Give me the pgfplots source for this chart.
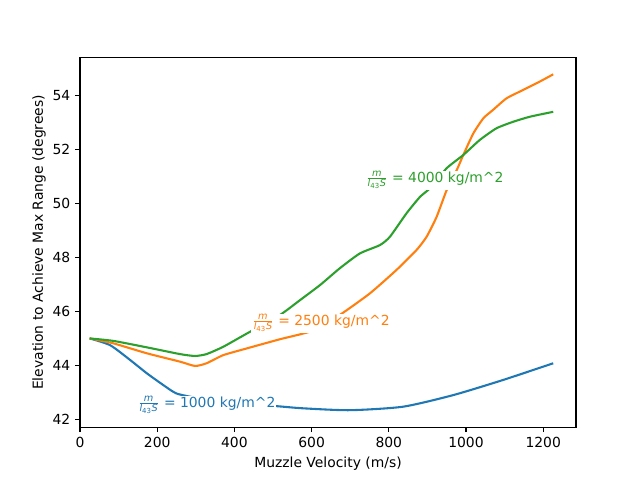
\documentclass[border=0pt]{standalone}
\usepackage{fontspec}
\setmainfont{DejaVu Sans}
\usepackage{pgfplots}
\pgfplotsset{compat=1.18}
\definecolor{cA}{HTML}{1F77B4}
\definecolor{cB}{HTML}{FF7F0E}
\definecolor{cC}{HTML}{2CA02C}
\newcommand{\frc}{$\frac{\mathit{m}}{\mathit{l}_{\mathrm{43}}\mathit{S}}$}
\begin{document}
\begin{tikzpicture}
\useasboundingbox (-57.6pt,-38.02pt) rectangle (403.2pt,307.58pt);
\begin{axis}[
  at={(0pt,0pt)}, anchor=origin,
  scale only axis, width=357.12pt, height=266.11pt,
  xmin=0, xmax=1285, ymin=41.71, ymax=55.41,
  xtick={0,200,...,1200}, ytick={42,44,...,54},
  tick align=outside, tick pos=left, major tick length=3.5pt,
  every tick/.style={black, line width=0.8pt},
  axis line style={line width=0.8pt},
  tick label style={font=\fontsize{10}{12}\selectfont},
  label style={font=\fontsize{10}{12}\selectfont},
  /pgf/number format/assume math mode=true,
  /pgf/number format/1000 sep={},
  scaled ticks=false,
  xlabel={Muzzle Velocity (m/s)},
  ylabel={Elevation to Achieve Max Range (degrees)},
  ylabel style={yshift=-2pt},
]
\addplot[cA, line width=1.5pt, smooth, tension=0.4] coordinates {
(25,45.00) (78,44.75) (130,44.20) (173,43.71) (216,43.27) (250,42.96)
(300,42.80) (350,42.68) (400,42.60) (450,42.54) (509,42.49) (578,42.41)
(699,42.34) (837,42.47) (967,42.90) (1096,43.46) (1226,44.08)};
\addplot[cB, line width=1.5pt, smooth, tension=0.35] coordinates {
(25,45.00) (86,44.82) (173,44.45) (259,44.14) (298,43.98) (328,44.08)
(371,44.38) (432,44.63) (518,44.97) (604,45.29) (673,45.87) (751,46.67)
(820,47.54) (872,48.28) (898,48.77) (924,49.51) (950,50.50) (976,51.24)
(993,51.80) (1019,52.60) (1045,53.16) (1070,53.47) (1105,53.90)
(1148,54.21) (1191,54.52) (1226,54.79)};
\addplot[cC, line width=1.5pt, smooth, tension=0.35] coordinates {
(25,45.00) (86,44.91) (173,44.67) (259,44.42) (298,44.35) (328,44.42)
(371,44.69) (432,45.18) (518,45.87) (570,46.42) (622,46.98) (673,47.60)
(725,48.15) (777,48.46) (803,48.77) (846,49.64) (881,50.25) (907,50.57)
(950,51.31) (993,51.80) (1036,52.36) (1079,52.79) (1122,53.03)
(1166,53.22) (1226,53.40)};
\node[fill=white, inner sep=0.5pt, text=cA, font=\fontsize{10}{12}\selectfont] at (axis cs:328,42.53) {\frc{} = 1000 kg/m\textasciicircum 2};
\node[fill=white, inner sep=0.5pt, text=cB, font=\fontsize{10}{12}\selectfont] at (axis cs:624,45.57) {\frc{} = 2500 kg/m\textasciicircum 2};
\node[fill=white, inner sep=0.5pt, text=cC, font=\fontsize{10}{12}\selectfont] at (axis cs:919,50.87) {\frc{} = 4000 kg/m\textasciicircum 2};
\end{axis}
\end{tikzpicture}
\end{document}
